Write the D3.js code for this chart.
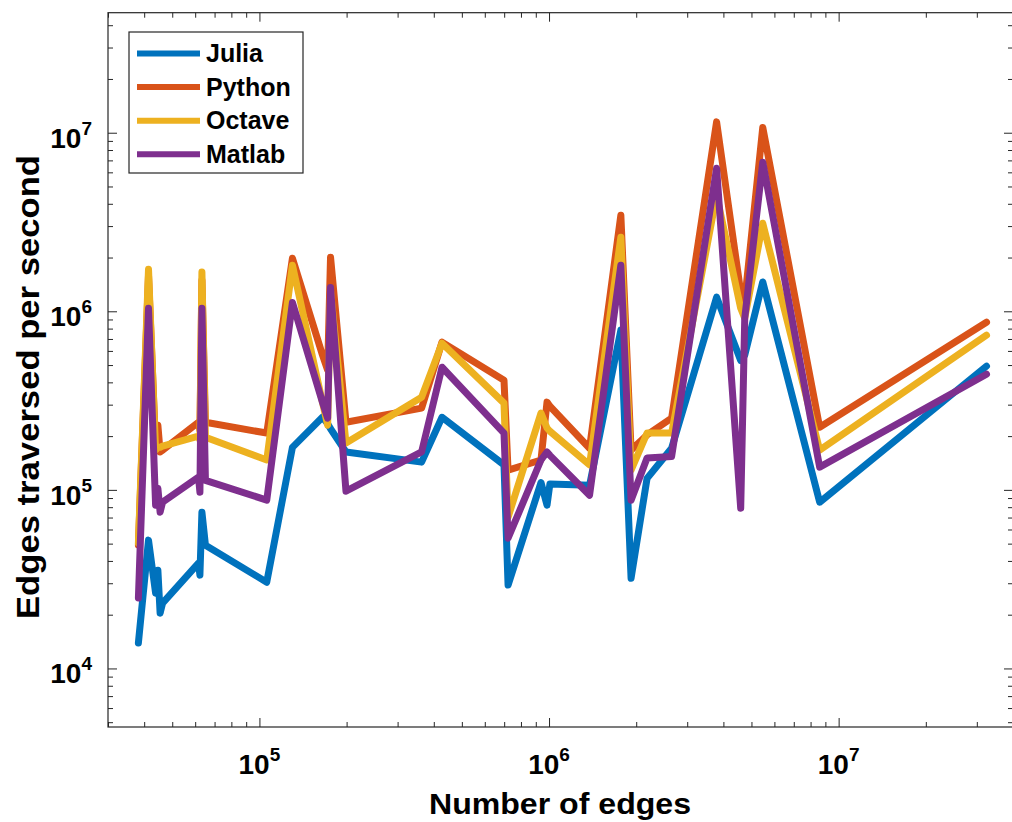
<!DOCTYPE html>
<html>
<head>
<meta charset="utf-8">
<script src="https://cdn.jsdelivr.net/npm/d3@7"></script>
<style>
  body { margin: 0; background: #fff; }
  text { font-family: "Liberation Sans", Arial, Helvetica, sans-serif; font-weight: bold; fill: #000; }
</style>
</head>
<body>
<div id="container"></div>
<script>
// Chart size
const width = 1012;
const height = 822;

// Number of edges (shared by all series)
const edges = [3.82e4, 4.14e4, 4.38e4, 4.46e4, 4.54e4, 4.63e4, 6.16e4, 6.23e4, 6.33e4, 6.51e4,
  1.06e5, 1.30e5, 1.65e5, 1.72e5, 1.76e5, 1.99e5, 3.63e5, 4.27e5, 6.99e5, 7.22e5,
  9.38e5, 9.84e5, 1.007e6, 1.38e6, 1.77e6, 1.92e6, 2.18e6, 2.65e6, 3.79e6, 4.59e6,
  4.74e6, 5.47e6, 8.60e6, 3.24e7];

// Edges traversed per second
const julia = [1.39e4, 5.23e4, 2.64e4, 3.55e4, 2.04e4, 2.32e4, 3.89e4, 3.33e4, 7.50e4, 4.90e4,
  3.04e4, 1.73e5, 2.55e5, 2.35e5, 2.20e5, 1.63e5, 1.43e5, 2.55e5, 1.38e5, 2.93e4,
  1.10e5, 8.21e4, 1.08e5, 1.06e5, 7.84e5, 3.20e4, 1.16e5, 1.71e5, 1.20e6, 5.30e5,
  5.68e5, 1.46e6, 8.53e4, 4.93e5];
const python = [4.90e4, 1.59e6, 1.75e5, 2.30e5, 1.63e5, 1.67e5, 2.39e5, 2.16e5, 1.49e6, 2.39e5,
  2.08e5, 1.98e6, 5.70e5, 4.68e5, 2.01e6, 2.39e5, 2.87e5, 6.72e5, 4.11e5, 1.29e5,
  1.47e5, 3.10e5, 2.94e5, 1.71e5, 3.45e6, 1.67e5, 2.03e5, 2.52e5, 1.15e7, 1.28e6,
  1.15e6, 1.07e7, 2.24e5, 8.69e5];
const octave = [5.03e4, 1.72e6, 1.67e5, 1.73e5, 1.73e5, 1.76e5, 2.00e5, 1.90e5, 1.66e6, 1.97e5,
  1.47e5, 1.81e6, 3.10e5, 2.30e5, 1.30e6, 1.83e5, 3.30e5, 6.63e5, 3.06e5, 7.03e4,
  2.69e5, 2.22e5, 2.13e5, 1.38e5, 2.60e6, 1.29e5, 2.08e5, 2.08e5, 4.47e6, 1.04e6,
  9.15e5, 3.11e6, 1.67e5, 7.35e5];
const matlab = [2.48e4, 1.04e6, 8.21e4, 1.02e5, 7.50e4, 8.53e4, 1.18e5, 9.71e4, 1.04e6, 1.13e5,
  8.76e4, 1.12e6, 3.10e5, 2.52e5, 1.36e6, 9.83e4, 1.63e5, 4.86e5, 2.08e5, 5.36e4,
  1.47e5, 1.63e5, 1.56e5, 9.34e4, 1.81e6, 8.76e4, 1.51e5, 1.54e5, 6.33e6, 7.90e4,
  9.15e5, 6.84e6, 1.34e5, 4.44e5];

const seriesNames = ["Julia", "Python", "Octave", "Matlab"];
const seriesColors = ["#0072BD", "#D95319", "#EDB120", "#7E2F8E"];
const seriesValues = [julia, python, octave, matlab];

// Axis limits and tick exponents
const xLimits = [3e4, 4e7];
const yLimits = [4.7e3, 4.7e7];
const xMajorExp = [5, 6, 7];
const yMajorExp = [4, 5, 6, 7];

const margin = { left: 108, right: 1013, top: 12.7, bottom: 727 };

const x = d3.scaleLog().domain(xLimits).range([margin.left, margin.right]);
const y = d3.scaleLog().domain(yLimits).range([margin.bottom, margin.top]);

const svg = d3.select("#container").append("svg")
    .attr("width", width)
    .attr("height", height);

// minor ticks 2..9 for each decade inside limits
function minorTicks(lim) {
  const out = [];
  for (let e = 3; e <= 8; e++) {
    for (let m = 1; m <= 9; m++) {
      const v = m * Math.pow(10, e);
      if (v >= lim[0] && v <= lim[1]) out.push(v);
    }
  }
  return out;
}
const xMajor = xMajorExp.map(e => Math.pow(10, e));
const yMajor = yMajorExp.map(e => Math.pow(10, e));
const xMinor = minorTicks(xLimits).filter(v => !xMajor.includes(v));
const yMinor = minorTicks(yLimits).filter(v => !yMajor.includes(v));

const axisColor = "#262626";
const plotH = margin.bottom - margin.top;
const plotW = margin.right - margin.left;

function styleAxis(g) {
  g.select(".domain").remove();
  g.selectAll(".tick line").attr("stroke", axisColor).attr("stroke-width", 1);
}

// ticks pointing inward on all four sides
const axesG = svg.append("g");
[[xMajor, 9], [xMinor, 5]].forEach(([vals, len]) => {
  axesG.append("g").attr("transform", `translate(0,${margin.bottom})`)
    .call(d3.axisBottom(x).tickValues(vals).tickSize(-len).tickFormat("")).call(styleAxis);
  axesG.append("g").attr("transform", `translate(0,${margin.top})`)
    .call(d3.axisTop(x).tickValues(vals).tickSize(-len).tickFormat("")).call(styleAxis);
});
[[yMajor, 9], [yMinor, 5]].forEach(([vals, len]) => {
  axesG.append("g").attr("transform", `translate(${margin.left},0)`)
    .call(d3.axisLeft(y).tickValues(vals).tickSize(-len).tickFormat("")).call(styleAxis);
  axesG.append("g").attr("transform", `translate(${margin.right},0)`)
    .call(d3.axisRight(y).tickValues(vals).tickSize(-len).tickFormat("")).call(styleAxis);
});

// lines
const line = d3.line()
    .x((d, i) => x(edges[i]))
    .y(d => y(d));

svg.append("clipPath").attr("id", "clip")
  .append("rect").attr("x", margin.left).attr("y", margin.top).attr("width", plotW).attr("height", plotH);

svg.append("g")
    .attr("clip-path", "url(#clip)")
    .selectAll("path")
    .data(seriesValues)
    .join("path")
    .attr("d", d => line(d))
    .attr("fill", "none")
    .attr("stroke", (d, i) => seriesColors[i])
    .attr("stroke-width", 7)
    .attr("stroke-linejoin", "round")
    .attr("stroke-linecap", "round");

// box
svg.append("rect")
    .attr("x", margin.left).attr("y", margin.top)
    .attr("width", plotW).attr("height", plotH)
    .attr("fill", "none").attr("stroke", axisColor).attr("stroke-width", 1.2);

// tick labels (10^n)
const xLab = svg.append("g").selectAll("text")
    .data(xMajorExp)
    .join("text")
    .attr("x", e => x(Math.pow(10, e)))
    .attr("y", margin.bottom + 47)
    .attr("text-anchor", "middle")
    .style("font-size", "28px");
xLab.append("tspan").text("10");
xLab.append("tspan").attr("dy", -13).style("font-size", "19px").text(e => e);

const yLab = svg.append("g").selectAll("text")
    .data(yMajorExp)
    .join("text")
    .attr("x", 92)
    .attr("y", e => y(Math.pow(10, e)) + 15)
    .attr("text-anchor", "end")
    .style("font-size", "28px");
yLab.append("tspan").text("10");
yLab.append("tspan").attr("dy", -13).style("font-size", "19px").text(e => e);

// axis titles
svg.append("text")
    .attr("x", 560)
    .attr("y", 814)
    .attr("text-anchor", "middle")
    .attr("textLength", 262)
    .attr("lengthAdjust", "spacingAndGlyphs")
    .style("font-size", "30px")
    .text("Number of edges");

svg.append("text")
    .attr("transform", `translate(39,387) rotate(-90)`)
    .attr("text-anchor", "middle")
    .attr("textLength", 464)
    .attr("lengthAdjust", "spacingAndGlyphs")
    .style("font-size", "31px")
    .text("Edges traversed per second");

// legend
const legend = svg.append("g");
legend.append("rect")
    .attr("x", 129).attr("y", 32).attr("width", 174).attr("height", 141)
    .attr("fill", "#fff").attr("stroke", axisColor).attr("stroke-width", 1.2);
const item = legend.selectAll("g.item")
    .data(seriesNames)
    .join("g")
    .attr("class", "item")
    .attr("transform", (d, i) => `translate(0,${53.5 + i * 33.6})`);
item.append("line")
    .attr("x1", 137).attr("x2", 200)
    .attr("stroke", (d, i) => seriesColors[i])
    .attr("stroke-width", 6);
item.append("text")
    .attr("x", 206).attr("y", 8.5)
    .style("font-size", "25px")
    .text(d => d);
</script>
</body>
</html>
